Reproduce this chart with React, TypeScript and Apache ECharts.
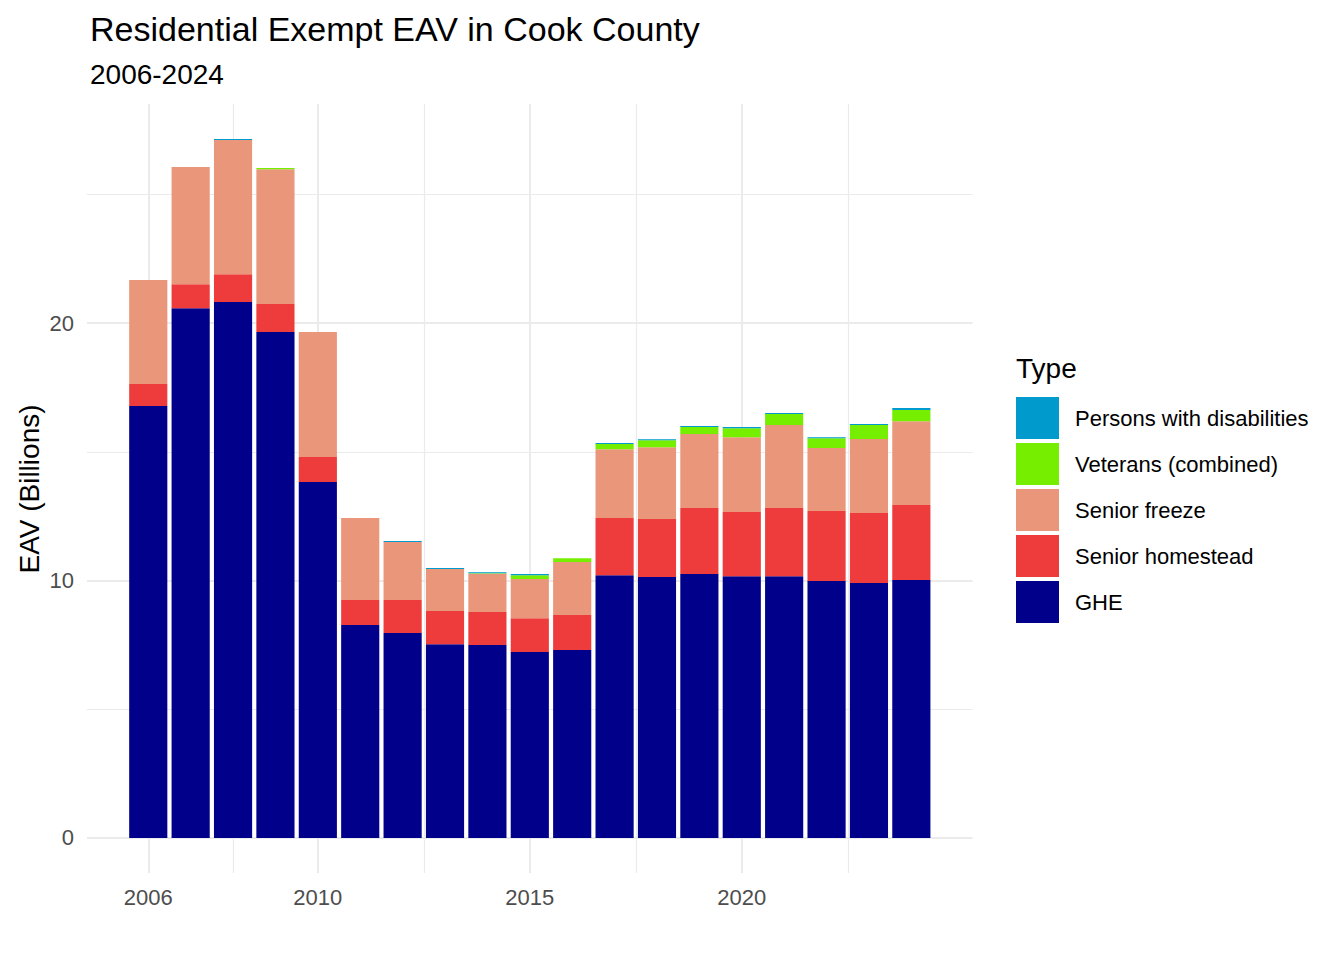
import React, { useEffect, useRef } from "react";
import * as echarts from "echarts";

const years = [2006, 2007, 2008, 2009, 2010, 2011, 2012, 2013, 2014, 2015, 2016, 2017, 2018, 2019, 2020, 2021, 2022, 2023, 2024];
const ghe = [16.78, 20.58, 20.82, 19.65, 13.83, 8.27, 7.96, 7.53, 7.5, 7.22, 7.3, 10.21, 10.14, 10.25, 10.17, 10.17, 9.98, 9.9, 10.02];
const seniorHomestead = [0.85, 0.93, 1.08, 1.09, 0.97, 0.97, 1.28, 1.29, 1.28, 1.32, 1.36, 2.22, 2.25, 2.57, 2.49, 2.65, 2.72, 2.72, 2.91];
const seniorFreeze = [4.04, 4.55, 5.21, 5.24, 4.85, 3.19, 2.26, 1.63, 1.48, 1.52, 2.06, 2.67, 2.79, 2.87, 2.91, 3.22, 2.45, 2.88, 3.26];
const veterans = [0, 0, 0, 0.04, 0, 0, 0, 0, 0.02, 0.15, 0.15, 0.2, 0.27, 0.27, 0.35, 0.43, 0.38, 0.54, 0.43];
const disabilities = [0, 0, 0.04, 0, 0, 0, 0.04, 0.04, 0.04, 0.04, 0, 0.04, 0.04, 0.04, 0.04, 0.04, 0.04, 0.04, 0.08];

const seriesNames = ["GHE", "Senior homestead", "Senior freeze", "Veterans (combined)", "Persons with disabilities"];
const seriesColors = ["#00008B", "#EE3B3B", "#E9967A", "#76EE00", "#009ACD"];
const legendOrder = ["Persons with disabilities", "Veterans (combined)", "Senior freeze", "Senior homestead", "GHE"];

const xTickLabels = [2006, 2010, 2015, 2020];
const xMinorGrid = [2008, 2012.5, 2017.5, 2022.5];
const yTickLabels = [0, 10, 20];
const yMinorGrid = [5, 15, 25];

const titleText = "Residential Exempt EAV in Cook County";
const subtitleText = "2006-2024";
const yAxisTitle = "EAV (Billions)";
const legendTitle = "Type";

export default function App() {
  const ref = useRef<HTMLDivElement>(null);
  useEffect(() => {
    if (!ref.current) return;
    const chart = echarts.init(ref.current, null, { renderer: "svg" });
    const font = "Liberation Sans, Arial, Helvetica, sans-serif";
    const values = [ghe, seniorHomestead, seniorFreeze, veterans, disabilities];
    const gridColor = "#EBEBEB";

    // value x-range (ggplot expansion of the bar extent)
    const xMin = 2004.555;
    const xMax = 2025.445;
    const yMin = -1.36;
    const yMax = 28.51;
    const plotLeft = 87;
    const plotWidth = 885.6;
    const pxPerYear = plotWidth / (xMax - xMin);
    const barGridLeft = plotLeft + (years[0] - 0.5 - xMin) * pxPerYear;
    const barGridWidth = years.length * pxPerYear;

    const bars = seriesNames.map((name, k) => ({
      type: "bar",
      name,
      stack: "total",
      xAxisIndex: 0,
      yAxisIndex: 0,
      z: 10,
      barWidth: "90%",
      itemStyle: { color: seriesColors[k] },
      emphasis: { disabled: true },
      data: values[k],
    }));

    const gridLines = {
      type: "line",
      name: "grid",
      xAxisIndex: 1,
      yAxisIndex: 1,
      z: 1,
      silent: true,
      data: [],
      markLine: {
        silent: true,
        symbol: ["none", "none"],
        label: { show: false },
        emphasis: { disabled: true },
        animation: false,
        data: [
          ...yTickLabels.map((v) => ({ yAxis: v, lineStyle: { color: gridColor, width: 2, type: "solid" } })),
          ...yMinorGrid.map((v) => ({ yAxis: v, lineStyle: { color: gridColor, width: 1.2, type: "solid" } })),
          ...xTickLabels.map((v) => ({ xAxis: v, lineStyle: { color: gridColor, width: 2, type: "solid" } })),
          ...xMinorGrid.map((v) => ({ xAxis: v, lineStyle: { color: gridColor, width: 1.2, type: "solid" } })),
        ],
      },
    };

    const hiddenAxis = {
      axisLine: { show: false },
      axisTick: { show: false },
      splitLine: { show: false },
      axisLabel: { show: false },
    };

    const option: any = {
      animation: false,
      backgroundColor: "#fff",
      textStyle: { fontFamily: font },
      grid: [
        { left: barGridLeft, width: barGridWidth, top: 104, bottom: 87, containLabel: false },
        { left: plotLeft, width: plotWidth, top: 104, bottom: 87, containLabel: false },
      ],
      xAxis: [
        { type: "category", gridIndex: 0, data: years.map(String), boundaryGap: true, ...hiddenAxis },
        {
          type: "value",
          gridIndex: 1,
          min: xMin,
          max: xMax,
          axisLine: { show: false },
          axisTick: { show: false },
          splitLine: { show: false },
          axisLabel: {
            customValues: xTickLabels,
            formatter: (v: number) => String(v),
            color: "#4D4D4D",
            fontSize: 22,
            fontFamily: font,
            margin: 13,
          },
        },
      ],
      yAxis: [
        { type: "value", gridIndex: 0, min: yMin, max: yMax, ...hiddenAxis },
        {
          type: "value",
          gridIndex: 1,
          min: yMin,
          max: yMax,
          axisLine: { show: false },
          axisTick: { show: false },
          splitLine: { show: false },
          axisLabel: {
            customValues: yTickLabels,
            formatter: (v: number) => String(v),
            color: "#4D4D4D",
            fontSize: 22,
            fontFamily: font,
            margin: 13,
          },
        },
      ],
      legend: {
        orient: "vertical",
        left: 1016,
        top: 397,
        padding: 0,
        itemWidth: 43,
        itemHeight: 42,
        itemGap: 4,
        icon: "rect",
        selectedMode: false,
        data: legendOrder,
        textStyle: { fontFamily: font, fontSize: 22, color: "#000", padding: [0, 0, 0, 11] },
      },
      graphic: [
        { type: "text", x: 90, y: 28.5, style: { text: titleText, font: `34px ${font}`, fill: "#000", verticalAlign: "middle", align: "left" } },
        { type: "text", x: 90, y: 74, style: { text: subtitleText, font: `28px ${font}`, fill: "#000", verticalAlign: "middle", align: "left" } },
        { type: "text", x: 1016, y: 368.5, style: { text: legendTitle, font: `28px ${font}`, fill: "#000", verticalAlign: "middle", align: "left" } },
        { type: "text", x: 29, y: 489, rotation: Math.PI / 2, style: { text: yAxisTitle, font: `28px ${font}`, fill: "#000", verticalAlign: "middle", align: "center" } },
      ],
      series: [gridLines, ...bars],
    };
    chart.setOption(option);
    return () => chart.dispose();
  }, []);
  return <div ref={ref} style={{ position: "absolute", left: 0, top: 0, width: 1344, height: 960, background: "#fff" }} />;
}
